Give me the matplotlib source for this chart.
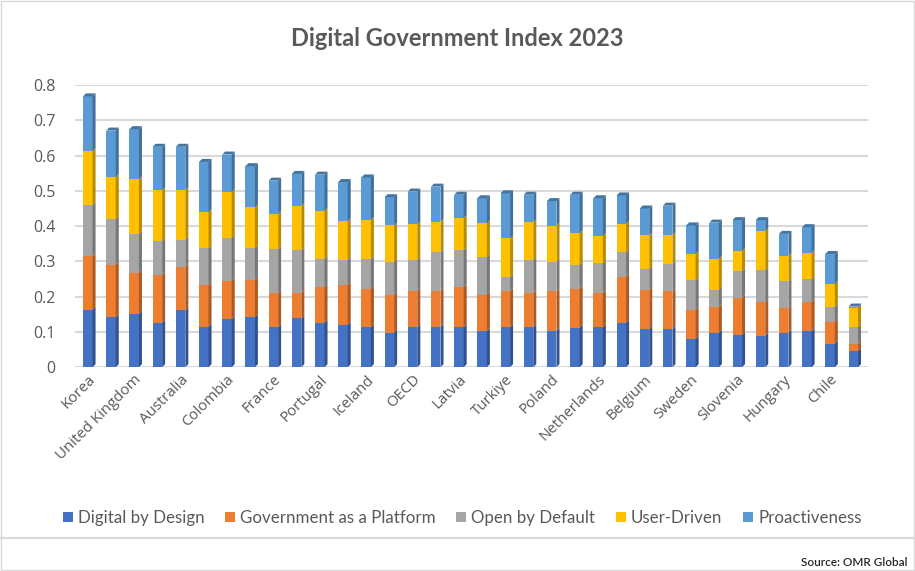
import matplotlib.pyplot as plt
import numpy as np
from matplotlib.patches import Polygon, Rectangle
from matplotlib.lines import Line2D
from matplotlib.colors import to_rgb

countries = ["Korea", "Denmark", "United Kingdom", "Norway", "Australia", "Estonia",
             "Colombia", "Ireland", "France", "Japan", "Portugal", "Spain", "Iceland",
             "Canada", "OECD", "New Zealand", "Latvia", "Israel", "Turkiye", "Italy",
             "Poland", "Czechia", "Netherlands", "Luxembourg", "Belgium", "Lithuania",
             "Sweden", "Germany", "Slovenia", "Austria", "Hungary", "Mexico", "Chile",
             "Switzerland"]

digital_by_design = [.163, .142, .151, .126, .161, .115, .136, .141, .113, .138, .126, .120,
                     .113, .098, .113, .115, .113, .102, .114, .113, .103, .112, .113, .126,
                     .108, .108, .080, .098, .092, .089, .098, .102, .067, .046]
gov_platform = [.151, .149, .117, .136, .124, .117, .109, .105, .096, .073, .101, .113,
                .110, .108, .103, .102, .114, .104, .102, .098, .112, .111, .097, .131,
                .111, .107, .083, .072, .104, .095, .069, .083, .062, .020]
open_default = [.146, .129, .110, .097, .077, .105, .122, .092, .126, .120, .081, .071,
                .084, .093, .088, .109, .104, .107, .039, .093, .083, .068, .086, .069,
                .059, .078, .084, .050, .077, .091, .076, .065, .042, .048]
user_driven = [.153, .119, .155, .143, .140, .102, .129, .115, .099, .126, .135, .110,
               .110, .103, .101, .086, .092, .095, .110, .107, .103, .089, .075, .081,
               .096, .081, .074, .087, .056, .110, .072, .074, .064, .054]
proactiveness = [.155, .132, .142, .123, .123, .143, .107, .117, .095, .091, .103, .111,
                 .121, .080, .093, .100, .066, .071, .128, .078, .070, .109, .108, .080,
                 .076, .084, .081, .103, .088, .032, .063, .073, .086, .004]

series = [digital_by_design, gov_platform, open_default, user_driven, proactiveness]
names = ["Digital by Design", "Government as a Platform", "Open by Default",
         "User-Driven", "Proactiveness"]
colors = ["#4472C4", "#ED7D31", "#A5A5A5", "#FFC000", "#5B9BD5"]


def shade(c, f):
    return tuple(v * f for v in to_rgb(c))


plt.rcParams['font.family'] = ['Open Sans', 'DejaVu Sans']

fig = plt.figure(figsize=(9.15, 5.71), dpi=100)
ax = fig.add_axes([0.082, 0.357, 0.867, 0.494])

x = np.arange(len(countries))
w = 0.41
dx, dy = 0.13, 0.0085
bottom = np.zeros(len(countries))
for vals, name, c in zip(series, names, colors):
    vals = np.array(vals)
    ax.bar(x, vals, width=w, bottom=bottom, color=c, label=name, zorder=3)
    for i in range(len(x)):
        b, t = bottom[i], bottom[i] + vals[i]
        r = x[i] + w / 2
        ax.add_patch(Polygon([(r, b), (r + dx, b + dy), (r + dx, t + dy), (r, t)],
                             closed=True, color=shade(c, 0.72), lw=0, zorder=3))
    bottom = bottom + vals

# top faces
for i in range(len(x)):
    t = bottom[i]
    l, r = x[i] - w / 2, x[i] + w / 2
    ax.add_patch(Polygon([(l, t), (l + dx, t + dy), (r + dx, t + dy), (r, t)],
                         closed=True, color=shade(colors[-1], 0.75), lw=0, zorder=3))

ax.set_ylim(0, 0.8)
ax.set_xlim(-0.55, 33.65)
ax.set_yticks(np.arange(0, 0.81, 0.1))
ax.set_yticklabels(["0", "0.1", "0.2", "0.3", "0.4", "0.5", "0.6", "0.7", "0.8"])
ax.yaxis.grid(True, color="#d9d9d9", lw=1.5, zorder=0)
ax.set_axisbelow(True)
for s in ax.spines.values():
    s.set_visible(False)
ax.tick_params(axis='both', length=0, colors="#595959", labelsize=11.5)
ax.tick_params(axis='y', pad=14)
ax.set_xticks(x)
ax.set_xticklabels([c if i % 2 == 0 else "" for i, c in enumerate(countries)],
                   rotation=45, ha='right', rotation_mode='anchor', fontsize=10.8)

fig.text(0.5, 0.932, "Digital Government Index 2023", ha='center', va='center',
         fontsize=17, fontweight='bold', color="#595959", family=['Lato', 'DejaVu Sans'])

ax.legend(loc='center', bbox_to_anchor=(0.5 - 0.012, (1 - 518 / 571 - 0.357) / 0.494),
          ncol=5, frameon=False, handlelength=0.6, handleheight=0.6, handletextpad=0.3,
          columnspacing=1.2, prop={'family': 'Lato', 'size': 12.2}, labelcolor="#595959",
          bbox_transform=ax.transAxes)

fig.add_artist(Line2D([0, 1], [1 - 538 / 571] * 2, color="#d9d9d9", lw=1.5))
fig.text(0.992, 1 - 562 / 571, "Source: OMR Global", ha='right', va='center',
         fontsize=8.5, color="#262626", fontweight='semibold',
         family=['Lato', 'DejaVu Sans'])
fig.add_artist(Rectangle((0.0007, 0.001), 0.9986, 0.998, fill=False, ec="#d9d9d9",
                         lw=1, transform=fig.transFigure))

fig.savefig("out.png", dpi=100)
